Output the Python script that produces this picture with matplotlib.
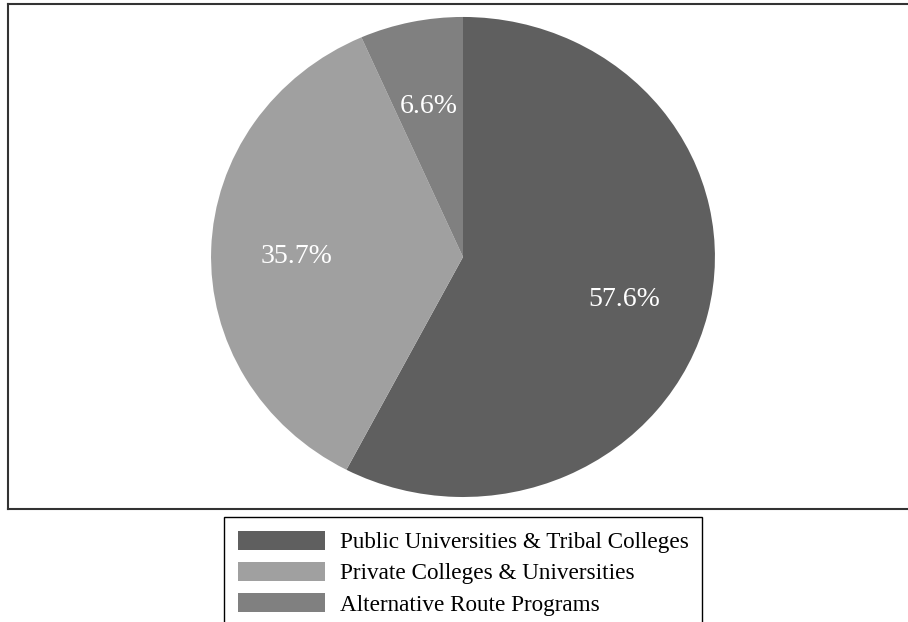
import matplotlib.pyplot as plt
from matplotlib.patches import Patch

plt.rcParams['font.family'] = ['Liberation Serif', 'DejaVu Serif']

labels = ['Public Universities & Tribal Colleges',
          'Private Colleges & Universities',
          'Alternative Route Programs']
shares = [57.6, 35.7, 6.6]
pct_text = ['57.6%', '35.7%', '6.6%']
colors = ['#5f5f5f', '#a0a0a0', '#808080']

W, H = 908, 622
fig = plt.figure(figsize=(W / 100, H / 100), dpi=100)

# axes box in pixels: left 8, top 4, bottom 509, runs off the right edge
ax = fig.add_axes([8 / W, (H - 509) / H, 910 / W, 505 / H])
it = iter(pct_text)
wedges, texts, autotexts = ax.pie(shares, colors=colors, startangle=90,
                                  counterclock=False,
                                  autopct=lambda p: next(it),
                                  pctdistance=0.66, normalize=True,
                                  textprops=dict(color='white', fontsize=20))
for t in autotexts:
    x, y = t.get_position()
    t.set_position((x, y - 0.02))
ax.set_aspect('auto')
ax.set_xlim(-1.806, 1.806)
ax.set_ylim(-1.05, 1.054)
ax.set_frame_on(True)
for s in ax.spines.values():
    s.set_visible(True)
    s.set_linewidth(1.5)
    s.set_color('#333333')
ax.set_xticks([])
ax.set_yticks([])

handles = [Patch(facecolor=c, edgecolor='none') for c in colors]
leg = fig.legend(handles, labels, loc='upper center',
                 bbox_to_anchor=(463 / W, 1 - 517 / H), ncol=1,
                 fontsize=16.7, frameon=True, fancybox=False,
                 handlelength=3.75, handleheight=0.86, handletextpad=0.65,
                 labelspacing=0.38, borderpad=0.6, borderaxespad=0)
leg.get_frame().set_edgecolor('black')
leg.get_frame().set_linewidth(1.0)
leg.get_frame().set_alpha(1)

fig.savefig('out.png', dpi=100)
